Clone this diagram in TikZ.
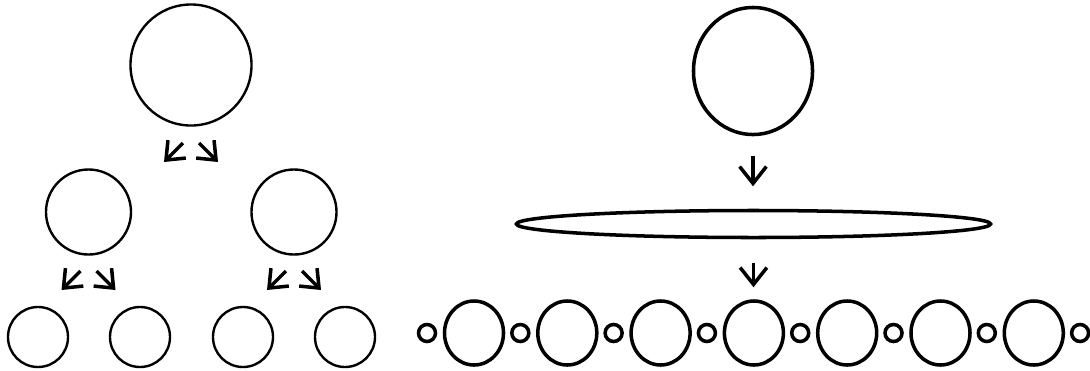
\documentclass[tikz,border=0pt]{standalone}
\usetikzlibrary{arrows.meta,shapes.geometric}
\begin{document}
\begin{tikzpicture}[x=0.025cm,y=-0.025cm,
   ring/.style={draw,circle,inner sep=0pt,line width=1.7pt},
   oval/.style={draw,ellipse,inner sep=0pt,line width=2.5pt},
   arr/.style={-{Straight Barb[length=11pt,width=18pt]},line width=2.5pt}]
\useasboundingbox (0,0) rectangle (1090,370);
% left: each ball splits in two
\node[ring,minimum size=3.025cm] (root) at (191,65) {};
\node[ring,minimum size=2.125cm] (midL) at (88.5,212) {};
\node[ring,minimum size=2.125cm] (midR) at (294,212) {};
\foreach \xx [count=\k] in {38,140,243,345}{\node[ring,minimum size=1.5cm] (leaf\k) at (\xx,337) {};}
\foreach \p/\d in {root/78,midL/59,midR/59}{
  \coordinate (\p-ls) at ([shift={(-8,\d)}]\p.center); \coordinate (\p-le) at ([shift={(-27,\d+19)}]\p.center);
  \coordinate (\p-rs) at ([shift={(8,\d)}]\p.center);  \coordinate (\p-re) at ([shift={(27,\d+19)}]\p.center);
  \draw[arr] (\p-ls) -- (\p-le); \draw[arr] (\p-rs) -- (\p-re);}
% right: one ball squashed flat, then a row of balls and beads
\node[oval,minimum width=2.975cm,minimum height=3.175cm] (blob) at (753,71) {};
\node[oval,minimum width=11.85cm,minimum height=0.675cm] (disc) at (753.5,224) {};
\foreach \k in {0,...,6}{\node[oval,minimum width=1.475cm,minimum height=1.6cm] (big\k) at (474+93.3*\k,333) {};}
\foreach \k in {0,...,7}{\node[oval,minimum size=0.425cm] (bead\k) at (427+93.3*\k,333) {};}
\coordinate (d1s) at ([shift={(0,20)}]blob.south); \coordinate (d1e) at ([shift={(0,50)}]blob.south);
\coordinate (d2s) at ([shift={(0,24)}]disc.south); \coordinate (d2e) at ([shift={(0,48)}]disc.south);
\draw[arr,-{Straight Barb[length=12pt,width=19pt]}] (d1s) -- (d1e);
\draw[arr,-{Straight Barb[length=12pt,width=19pt]}] (d2s) -- (d2e);
\end{tikzpicture}
\end{document}
